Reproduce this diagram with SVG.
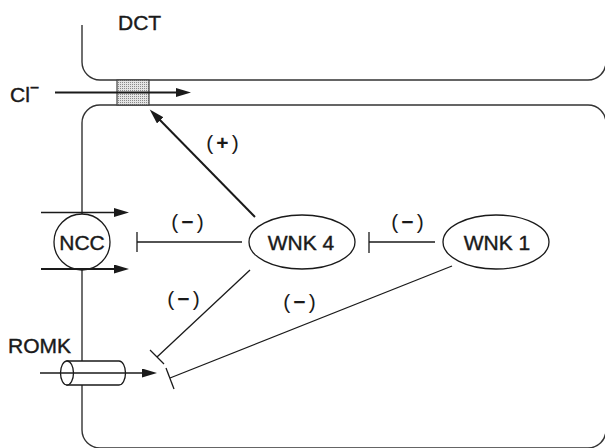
<svg xmlns="http://www.w3.org/2000/svg" width="605" height="448" viewBox="0 0 605 448">
<defs>
<pattern id="stip" width="2" height="2" patternUnits="userSpaceOnUse">
<rect width="2" height="2" fill="#e4e4e4"/>
<rect width="1" height="1" fill="#8a8a8a"/>
</pattern>
<marker id="ah" markerUnits="userSpaceOnUse" markerWidth="16" markerHeight="10" refX="6" refY="4.5" orient="auto">
<path d="M0,0 L15,4.5 L0,9 Z" fill="#1a1a1a"/>
</marker>
</defs>
<style>
.wall{fill:none;stroke:#333;stroke-width:1.4}
.ln{fill:none;stroke:#1a1a1a;stroke-width:1.3}
.arr{fill:none;stroke:#1a1a1a;stroke-width:2}
.node{fill:#fff;stroke:#1a1a1a;stroke-width:1.3}
text{font-family:"Liberation Sans",Arial,sans-serif;font-size:21px;fill:#1a1a1a;stroke:#1a1a1a;stroke-width:0.4}
.c{text-anchor:middle}
.sg{letter-spacing:3px;stroke-width:0}
</style>
<g id="cells">
<path class="wall" d="M82,25 V62 A18,18 0 0 0 100,80 H588 A18,18 0 0 0 606,62"/>
<path class="wall" d="M606,123 A18,18 0 0 0 588,105 H100 A18,18 0 0 0 82,123 V430 A18,18 0 0 0 100,448 H588 A18,18 0 0 0 606,430"/>
</g>
<g id="chloride-channel">
<rect x="117" y="80" width="32" height="25" fill="url(#stip)" stroke="#444" stroke-width="1.2"/>
</g>
<g id="NCC">
<circle class="node" cx="82" cy="242" r="28"/>
<text class="c" x="82" y="249.5">NCC</text>
</g>
<g id="ROMK">
<path class="node" d="M67,361 H119 A6.5,12 0 0 1 119,385 H67 Z"/>
<ellipse class="node" cx="67" cy="373" rx="6.5" ry="12"/>
<text x="8" y="353">ROMK</text>
</g>
<g id="WNK4">
<ellipse class="node" cx="302" cy="242" rx="53" ry="27"/>
<text class="c" x="301" y="250">WNK 4</text>
</g>
<g id="WNK1">
<ellipse class="node" cx="496" cy="242" rx="53" ry="27"/>
<text class="c" x="497" y="250">WNK 1</text>
</g>
<g id="labels">
<text x="118" y="30" font-size="20">DCT</text>
<text x="10" y="102">Cl<tspan dy="-9" font-size="16">−</tspan></text>
</g>
<g id="connectors">
<line class="arr" x1="55" y1="92.5" x2="182" y2="92.5" marker-end="url(#ah)"/>
<line class="ln" x1="41" y1="212.5" x2="120" y2="212.5" marker-end="url(#ah)"/>
<line class="arr" x1="41" y1="269" x2="120" y2="269" marker-end="url(#ah)"/>
<line class="ln" x1="40" y1="373" x2="148" y2="373" marker-end="url(#ah)"/>
<line class="arr" x1="255" y1="217" x2="156" y2="116" marker-end="url(#ah)"/>
<line class="ln" x1="242" y1="242" x2="137" y2="242"/>
<line class="ln" x1="137" y1="232" x2="137" y2="252"/>
<line class="ln" x1="435" y1="242" x2="369" y2="242"/>
<line class="ln" x1="369" y1="232" x2="369" y2="253"/>
<line class="ln" x1="250" y1="270" x2="157" y2="357"/>
<line class="ln" x1="150" y1="350" x2="164" y2="364"/>
<line class="ln" x1="452" y1="266" x2="170" y2="378"/>
<line class="ln" x1="166" y1="368" x2="174" y2="389"/>
<text class="c sg" x="224" y="150">(<tspan font-weight="bold">+</tspan>)</text>
<text class="c sg" x="189" y="229">(<tspan font-weight="bold">−</tspan>)</text>
<text class="c sg" x="409" y="229">(<tspan font-weight="bold">−</tspan>)</text>
<text class="c sg" x="185" y="306">(<tspan font-weight="bold">−</tspan>)</text>
<text class="c sg" x="301" y="309">(<tspan font-weight="bold">−</tspan>)</text>
</g>
</svg>
